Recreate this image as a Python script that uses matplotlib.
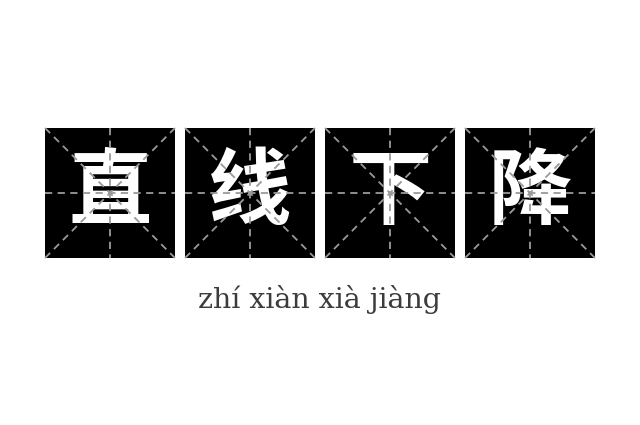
import matplotlib
matplotlib.use("Agg")
import matplotlib.pyplot as plt
from matplotlib.patches import Rectangle

# Content
chars = ["直", "线", "下", "降"]
pinyin = "zhí xiàn xià jiàng"

# Layout (pixels)
box_size = 130
box_gap = 10
box_left = 45
box_top = 128

fig = plt.figure(figsize=(6.4, 4.25), dpi=100)
ax = fig.add_axes([0, 0, 1, 1])
ax.set_xlim(0, 640)
ax.set_ylim(425, 0)
ax.axis("off")

dash = dict(color="#9a9a9a", lw=1.3, ls=(0, (4, 3)), zorder=3)

for i, ch in enumerate(chars):
    x0 = box_left + i * (box_size + box_gap)
    y0 = box_top
    x1, y1 = x0 + box_size, y0 + box_size
    cx, cy = (x0 + x1) / 2, (y0 + y1) / 2
    ax.add_patch(Rectangle((x0, y0), box_size, box_size, facecolor="black",
                           edgecolor="none", zorder=1))
    ax.text(cx, cy, ch, ha="center", va="center", color="white",
            fontsize=60, fontweight="bold",
            family=["Noto Sans CJK SC", "DejaVu Sans"], zorder=2)
    # guide lines
    ax.plot([x0, x1], [cy, cy], **dash)
    ax.plot([cx, cx], [y0, y1], **dash)
    ax.plot([x0, x1], [y0, y1], **dash)
    ax.plot([x0, x1], [y1, y0], **dash)

ax.text(320, 308, pinyin, ha="center", va="baseline", color="#3c3c3c",
        fontsize=20.5, family="DejaVu Serif")

fig.savefig("out.png", dpi=100, facecolor="white")
